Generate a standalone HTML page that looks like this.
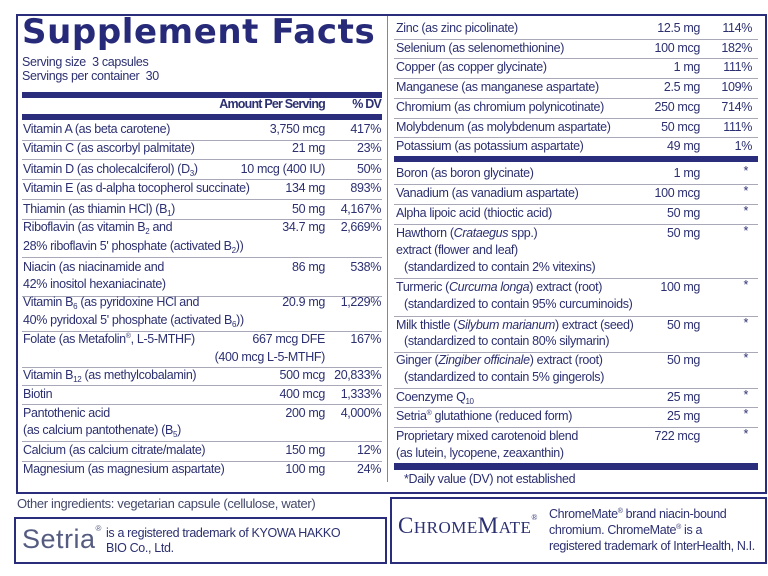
<!DOCTYPE html>
<html><head><meta charset="utf-8"><style>
body{margin:0;width:768px;height:576px;background:#fff;position:relative;overflow:hidden;font-family:"Liberation Sans",sans-serif;color:#2c3070}
div{position:absolute;white-space:nowrap}
sub,sup{vertical-align:baseline;position:relative;line-height:0;font-size:8px}
sub{top:3px}sup{top:-5px;font-size:7px}
.t{font-size:12.5px;line-height:15px;letter-spacing:-0.35px}
.r{text-align:right}
.hl{height:1px;background:#a8a8b8}
.bar{background:#2a2d7c}
.a{right:443px}.p{right:387px}
.ra{right:68px}.rp{right:16px}
</style></head><body>
<div style="left:16px;top:14px;width:747px;height:476px;border:2px solid #2a2d7c"></div>
<div style="left:387px;top:16px;width:1px;height:466px;background:#888"></div>
<div style="left:22px;top:12px;font-size:34px;font-weight:900;letter-spacing:0.6px;color:#262a78;font-family:'DejaVu Sans','Liberation Sans',sans-serif">Supplement Facts</div>
<div class="t" style="left:22px;top:55px">Serving size&nbsp; 3 capsules</div>
<div class="t" style="left:22px;top:69px">Servings per container&nbsp; 30</div>
<div class="bar" style="left:22px;top:92px;width:360px;height:6px"></div>
<div class="t a" style="top:97px;font-weight:bold;letter-spacing:-0.8px">Amount Per Serving</div>
<div class="t p" style="top:97px;font-weight:bold;letter-spacing:-0.8px">% DV</div>
<div class="bar" style="left:22px;top:114px;width:360px;height:6px"></div>

<div class="t" style="left:23px;top:122px">Vitamin A (as beta carotene)</div><div class="t a" style="top:122px">3,750 mcg</div><div class="t p" style="top:122px">417%</div>
<div class="hl" style="left:22px;top:140px;width:360px"></div>
<div class="t" style="left:23px;top:141px">Vitamin C (as ascorbyl palmitate)</div><div class="t a" style="top:141px">21 mg</div><div class="t p" style="top:141px">23%</div>
<div class="hl" style="left:22px;top:159px;width:360px"></div>
<div class="t" style="left:23px;top:162px">Vitamin D (as cholecalciferol) (D<sub>3</sub>)</div><div class="t a" style="top:162px">10 mcg (400 IU)</div><div class="t p" style="top:162px">50%</div>
<div class="hl" style="left:22px;top:179px;width:360px"></div>
<div class="t" style="left:23px;top:181px">Vitamin E (as d-alpha tocopherol succinate)</div><div class="t a" style="top:181px">134 mg</div><div class="t p" style="top:181px">893%</div>
<div class="hl" style="left:22px;top:199px;width:360px"></div>
<div class="t" style="left:23px;top:202px">Thiamin (as thiamin HCl) (B<sub>1</sub>)</div><div class="t a" style="top:202px">50 mg</div><div class="t p" style="top:202px">4,167%</div>
<div class="hl" style="left:22px;top:219px;width:360px"></div>
<div class="t" style="left:23px;top:220px">Riboflavin (as vitamin B<sub>2</sub> and</div><div class="t a" style="top:220px">34.7 mg</div><div class="t p" style="top:220px">2,669%</div>
<div class="t" style="left:23px;top:239px">28% riboflavin 5' phosphate (activated B<sub>2</sub>))</div>
<div class="hl" style="left:22px;top:257px;width:360px"></div>
<div class="t" style="left:23px;top:260px">Niacin (as niacinamide and</div><div class="t a" style="top:260px">86 mg</div><div class="t p" style="top:260px">538%</div>
<div class="t" style="left:23px;top:277px">42% inositol hexaniacinate)</div>
<div class="hl" style="left:22px;top:296px;width:360px"></div>
<div class="t" style="left:23px;top:295px">Vitamin B<sub>6</sub> (as pyridoxine HCl and</div><div class="t a" style="top:295px">20.9 mg</div><div class="t p" style="top:295px">1,229%</div>
<div class="t" style="left:23px;top:313px">40% pyridoxal 5' phosphate (activated B<sub>6</sub>))</div>
<div class="hl" style="left:22px;top:331px;width:360px"></div>
<div class="t" style="left:23px;top:332px">Folate (as Metafolin<sup>®</sup>, L-5-MTHF)</div><div class="t a" style="top:332px">667 mcg DFE</div><div class="t p" style="top:332px">167%</div>
<div class="t a" style="top:350px">(400 mcg L-5-MTHF)</div>
<div class="hl" style="left:22px;top:367px;width:360px"></div>
<div class="t" style="left:23px;top:368px">Vitamin B<sub>12</sub> (as methylcobalamin)</div><div class="t a" style="top:368px">500 mcg</div><div class="t p" style="top:368px">20,833%</div>
<div class="hl" style="left:22px;top:385px;width:360px"></div>
<div class="t" style="left:23px;top:387px">Biotin</div><div class="t a" style="top:387px">400 mcg</div><div class="t p" style="top:387px">1,333%</div>
<div class="hl" style="left:22px;top:404px;width:360px"></div>
<div class="t" style="left:23px;top:406px">Pantothenic acid</div><div class="t a" style="top:406px">200 mg</div><div class="t p" style="top:406px">4,000%</div>
<div class="t" style="left:23px;top:423px">(as calcium pantothenate) (B<sub>5</sub>)</div>
<div class="hl" style="left:22px;top:441px;width:360px"></div>
<div class="t" style="left:23px;top:443px">Calcium (as calcium citrate/malate)</div><div class="t a" style="top:443px">150 mg</div><div class="t p" style="top:443px">12%</div>
<div class="hl" style="left:22px;top:461px;width:360px"></div>
<div class="t" style="left:23px;top:462px">Magnesium (as magnesium aspartate)</div><div class="t a" style="top:462px">100 mg</div><div class="t p" style="top:462px">24%</div>

<div class="t" style="left:396px;top:21px">Zinc (as zinc picolinate)</div><div class="t ra" style="top:21px">12.5 mg</div><div class="t rp" style="top:21px">114%</div>
<div class="hl" style="left:394px;top:39px;width:364px"></div>
<div class="t" style="left:396px;top:41px">Selenium (as selenomethionine)</div><div class="t ra" style="top:41px">100 mcg</div><div class="t rp" style="top:41px">182%</div>
<div class="hl" style="left:394px;top:58px;width:364px"></div>
<div class="t" style="left:396px;top:60px">Copper (as copper glycinate)</div><div class="t ra" style="top:60px">1 mg</div><div class="t rp" style="top:60px">111%</div>
<div class="hl" style="left:394px;top:78px;width:364px"></div>
<div class="t" style="left:396px;top:80px">Manganese (as manganese aspartate)</div><div class="t ra" style="top:80px">2.5 mg</div><div class="t rp" style="top:80px">109%</div>
<div class="hl" style="left:394px;top:98px;width:364px"></div>
<div class="t" style="left:396px;top:100px">Chromium (as chromium polynicotinate)</div><div class="t ra" style="top:100px">250 mcg</div><div class="t rp" style="top:100px">714%</div>
<div class="hl" style="left:394px;top:118px;width:364px"></div>
<div class="t" style="left:396px;top:120px">Molybdenum (as molybdenum aspartate)</div><div class="t ra" style="top:120px">50 mcg</div><div class="t rp" style="top:120px">111%</div>
<div class="hl" style="left:394px;top:137px;width:364px"></div>
<div class="t" style="left:396px;top:139px">Potassium (as potassium aspartate)</div><div class="t ra" style="top:139px">49 mg</div><div class="t rp" style="top:139px">1%</div>
<div class="bar" style="left:394px;top:156px;width:364px;height:6px"></div>
<div class="t" style="left:396px;top:166px">Boron (as boron glycinate)</div><div class="t ra" style="top:166px">1 mg</div><div class="t rp" style="top:164px;right:20px">*</div>
<div class="hl" style="left:394px;top:184px;width:364px"></div>
<div class="t" style="left:396px;top:186px">Vanadium (as vanadium aspartate)</div><div class="t ra" style="top:186px">100 mcg</div><div class="t rp" style="top:184px;right:20px">*</div>
<div class="hl" style="left:394px;top:204px;width:364px"></div>
<div class="t" style="left:396px;top:206px">Alpha lipoic acid (thioctic acid)</div><div class="t ra" style="top:206px">50 mg</div><div class="t rp" style="top:204px;right:20px">*</div>
<div class="hl" style="left:394px;top:224px;width:364px"></div>
<div class="t" style="left:396px;top:226px">Hawthorn (<i>Crataegus</i> spp.)</div><div class="t ra" style="top:226px">50 mg</div><div class="t rp" style="top:224px;right:20px">*</div>
<div class="t" style="left:396px;top:243px">extract (flower and leaf)</div>
<div class="t" style="left:404px;top:260px">(standardized to contain 2% vitexins)</div>
<div class="hl" style="left:394px;top:278px;width:364px"></div>
<div class="t" style="left:396px;top:280px">Turmeric (<i>Curcuma longa</i>) extract (root)</div><div class="t ra" style="top:280px">100 mg</div><div class="t rp" style="top:278px;right:20px">*</div>
<div class="t" style="left:404px;top:297px">(standardized to contain 95% curcuminoids)</div>
<div class="hl" style="left:394px;top:316px;width:364px"></div>
<div class="t" style="left:396px;top:318px">Milk thistle (<i>Silybum marianum</i>) extract (seed)</div><div class="t ra" style="top:318px">50 mg</div><div class="t rp" style="top:316px;right:20px">*</div>
<div class="t" style="left:404px;top:334px">(standardized to contain 80% silymarin)</div>
<div class="hl" style="left:394px;top:352px;width:364px"></div>
<div class="t" style="left:396px;top:353px">Ginger (<i>Zingiber officinale</i>) extract (root)</div><div class="t ra" style="top:353px">50 mg</div><div class="t rp" style="top:351px;right:20px">*</div>
<div class="t" style="left:404px;top:370px">(standardized to contain 5% gingerols)</div>
<div class="hl" style="left:394px;top:388px;width:364px"></div>
<div class="t" style="left:396px;top:390px">Coenzyme Q<sub>10</sub></div><div class="t ra" style="top:390px">25 mg</div><div class="t rp" style="top:388px;right:20px">*</div>
<div class="hl" style="left:394px;top:407px;width:364px"></div>
<div class="t" style="left:396px;top:409px">Setria<sup>®</sup> glutathione (reduced form)</div><div class="t ra" style="top:409px">25 mg</div><div class="t rp" style="top:407px;right:20px">*</div>
<div class="hl" style="left:394px;top:427px;width:364px"></div>
<div class="t" style="left:396px;top:429px">Proprietary mixed carotenoid blend</div><div class="t ra" style="top:429px">722 mcg</div><div class="t rp" style="top:427px;right:20px">*</div>
<div class="t" style="left:396px;top:446px">(as lutein, lycopene, zeaxanthin)</div>
<div class="bar" style="left:394px;top:463px;width:364px;height:7px"></div>
<div class="t" style="left:404px;top:472px">*Daily value (DV) not established</div>

<div class="t" style="left:17px;top:496px;font-size:13px;color:#444a6a">Other ingredients: vegetarian capsule (cellulose, water)</div>
<div style="left:14px;top:517px;width:369px;height:43px;border:2px solid #2a2d7c"></div>
<div style="left:22px;top:524px;font-size:27px;color:#555c80;letter-spacing:0.5px">Setria<span style="font-size:8px;vertical-align:top">®</span></div>
<div class="t" style="left:106px;top:526px;font-size:12.5px;line-height:15px">is a registered trademark of KYOWA HAKKO<br>BIO Co., Ltd.</div>
<div style="left:390px;top:497px;width:373px;height:63px;border:2px solid #2a2d7c"></div>
<div style="left:398px;top:513px;font-family:'Liberation Serif',serif;font-size:23px;color:#2c3070;letter-spacing:0.5px">C<span style="font-size:17px">HROME</span>M<span style="font-size:17px">ATE</span><span style="font-size:8px;vertical-align:top">®</span></div>
<div class="t" style="left:549px;top:506px;font-size:12.5px;line-height:16px">ChromeMate<sup>®</sup> brand niacin-bound<br>chromium. ChromeMate<sup>®</sup> is a<br>registered trademark of InterHealth, N.I.</div>
</body></html>
